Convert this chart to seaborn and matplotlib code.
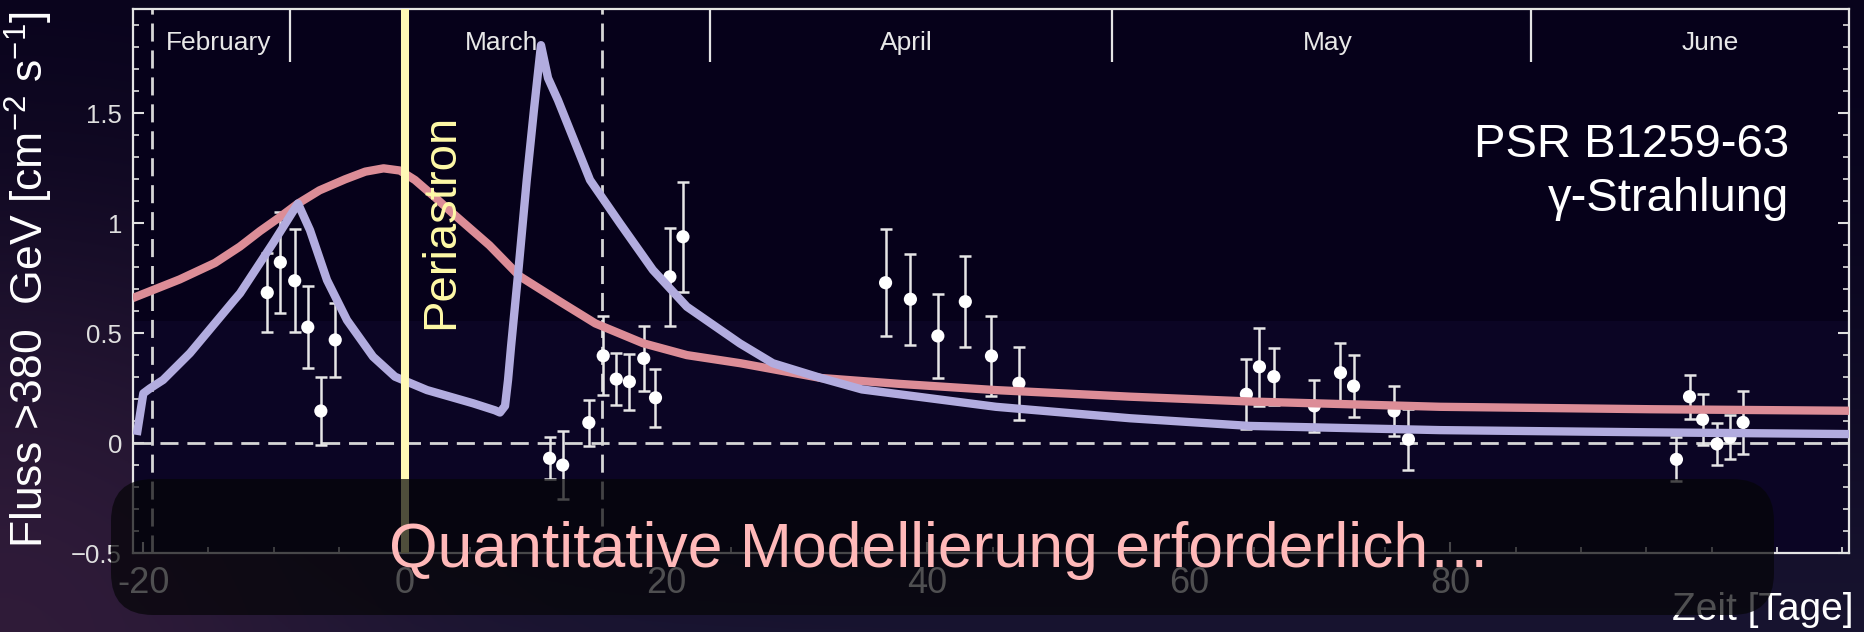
import numpy as np
import matplotlib
matplotlib.use("Agg")
import matplotlib.pyplot as plt
import seaborn as sns
from matplotlib.patches import FancyBboxPatch
from matplotlib.ticker import MultipleLocator

# ---------------- data ----------------
obs_day = [-10.5, -9.5, -8.4, -7.4, -6.4, -5.3,
           11.1, 12.1, 14.1, 15.2, 16.2, 17.2, 18.3, 19.2, 20.3, 21.3,
           36.8, 38.7, 40.8, 42.9, 44.9, 47.0,
           64.4, 65.4, 66.5, 69.6, 71.6, 72.6, 75.7, 76.8,
           97.3, 98.3, 99.3, 100.4, 101.4, 102.4]
obs_flux = [0.685, 0.823, 0.739, 0.528, 0.147, 0.470,
            -0.068, -0.099, 0.094, 0.398, 0.292, 0.280, 0.386, 0.207, 0.757, 0.939,
            0.730, 0.655, 0.488, 0.644, 0.397, 0.273,
            0.223, 0.348, 0.303, 0.170, 0.321, 0.260, 0.147, 0.018,
            -0.073, 0.212, 0.109, -0.003, 0.027, 0.095]
obs_err = [0.18, 0.23, 0.235, 0.185, 0.153, 0.17,
           0.095, 0.153, 0.104, 0.18, 0.118, 0.127, 0.148, 0.131, 0.223, 0.25,
           0.244, 0.206, 0.193, 0.206, 0.183, 0.167,
           0.159, 0.178, 0.13, 0.12, 0.134, 0.14, 0.115, 0.14,
           0.10, 0.10, 0.115, 0.095, 0.10, 0.143]

model1_day = [-20.8, -17.2, -14.5, -12.6, -11.05, -9.5, -8.15, -6.5, -4.55, -3.0,
              -1.6, -0.35, 0.8, 2.3, 3.7, 6.5, 8.8, 11.9, 14.6, 18.25, 21.6, 25.7,
              31.85, 37.9, 45.2, 55.5, 64.7, 79.2, 95.3, 110.5]
model1_flux = [0.66, 0.745, 0.82, 0.894, 0.965, 1.03, 1.09, 1.15, 1.2, 1.235,
               1.25, 1.24, 1.197, 1.12, 1.045, 0.90, 0.76, 0.644, 0.545, 0.455, 0.401, 0.364,
               0.297, 0.27, 0.242, 0.212, 0.19, 0.166, 0.155, 0.148]

model2_day = [-20.48, -19.98, -19.46, -18.47, -16.41, -13.04, -12.58, -10.06, -8.15,
              -7.23, -5.93, -4.40, -2.41, -0.73, 1.72, 5.24, 6.92, 7.30, 7.69, 7.92,
              8.15, 8.68, 9.35, 9.90, 10.44, 10.98, 11.74, 14.19, 16.48, 19.0, 21.6,
              25.66, 28.18, 31.85, 34.99, 45.24, 55.49, 64.67, 79.2, 95.26, 110.5]
model2_flux = [0.038, 0.227, 0.25, 0.288, 0.41, 0.65, 0.682, 0.91, 1.09,
               0.969, 0.742, 0.56, 0.394, 0.303, 0.242, 0.182, 0.15, 0.14, 0.17, 0.288,
               0.44, 0.765, 1.197, 1.515, 1.81, 1.66, 1.56, 1.197, 1.0, 0.788, 0.621,
               0.454, 0.364, 0.297, 0.245, 0.166, 0.114, 0.079, 0.06, 0.05, 0.042]

periastron_day = 0
disk_days = [-19.3, 15.1]
month_names = ["February", "March", "April", "May", "June"]
month_label_day = [-14.2, 7.46, 38.4, 70.6, 99.85]
month_boundary_day = [-8.76, 23.36, 54.15, 86.16]

x_ticks = [-20, 0, 20, 40, 60, 80]
x_ticklabels = ["-20", "0", "20", "40", "60", "80"]
y_ticks = [-0.5, 0, 0.5, 1, 1.5]
y_ticklabels = ["\u22120.5", "0", "0.5", "1", "1.5"]

# ---------------- style ----------------
sns.set_theme(style="dark")
plt.rcParams['font.family'] = ['Liberation Sans', 'DejaVu Sans']
plt.rcParams['mathtext.fontset'] = 'custom'
plt.rcParams['mathtext.rm'] = 'Liberation Sans'
plt.rcParams['mathtext.it'] = 'Liberation Sans:italic'
plt.rcParams['mathtext.default'] = 'regular'

W, H, DPI = 1865, 632, 100
fig = plt.figure(figsize=(W / DPI, H / DPI), dpi=DPI)

# background gradient of the slide
bg = fig.add_axes([0, 0, 1, 1], zorder=-10)
yy, xx = np.mgrid[0:1:240j, 0:1:700j]
top = np.array([8, 3, 28]) / 255
bot = np.array([24, 20, 48]) / 255
t = (yy ** 1.6)[..., None]
img = top * (1 - t) + bot * t
glow = np.array([50, 28, 58]) / 255
d = np.sqrt((xx * W / H) ** 2 + (yy - 1) ** 2)
w = (np.exp(-(d / 0.6) ** 2) * 0.9)[..., None]
img = img * (1 - w) + glow * w
bg.imshow(img, aspect='auto', extent=[0, 1, 0, 1])
bg.set_axis_off()

ax = fig.add_axes([133 / W, 1 - 553.3 / H, (1849 - 133) / W, (553.3 - 9.3) / H])
ax.set_facecolor('#06011a')
ax.set_xlim(-20.77, 110.5)
ax.set_ylim(-0.5, 1.973)
ax.axhspan(-0.6, 0.555, color='#0b0524', lw=0, zorder=0)

# reference lines
ax.axhline(0, color='#d6d6d6', lw=2, dashes=(6.5, 3.2), zorder=1.5)
for dd in disk_days:
    ax.axvline(dd, color='#d6d6d6', lw=2, dashes=(6.5, 3.2), zorder=1.5)

# data points
ax.errorbar(obs_day, obs_flux, yerr=obs_err, fmt='none', ecolor='#e6e6e6',
            elinewidth=1.8, capsize=4, capthick=1.8, zorder=2)
sns.scatterplot(x=obs_day, y=obs_flux, color='white', s=90, edgecolor='none',
                zorder=2.5, ax=ax, legend=False)

# model curves
sns.lineplot(x=model1_day, y=model1_flux, sort=False, estimator=None, color='#dc8d97',
             lw=6, ax=ax, zorder=3, solid_joinstyle='round', solid_capstyle='butt')
sns.lineplot(x=model2_day, y=model2_flux, sort=False, estimator=None, color='#b2acdf',
             lw=6, ax=ax, zorder=3.2, solid_joinstyle='round', solid_capstyle='butt')

# periastron
ax.axvline(periastron_day, color='#fff9b5', lw=5.8, zorder=5)
ax.text(3.71, 0.52, 'Periastron', rotation=90, rotation_mode='anchor', ha='left',
        va='baseline', color='#fffaa8', fontsize=34, zorder=6)

# months
ax.vlines(month_boundary_day, 1.735, 1.973, color='#e4e4e4', lw=1.6, zorder=4)
for name, md in zip(month_names, month_label_day):
    ax.text(md, 1.788, name, ha='center', va='baseline', fontsize=19, color='#e8e8e8')

# ticks and spines
ax.set_xticks(x_ticks)
ax.set_xticklabels(x_ticklabels)
ax.xaxis.set_minor_locator(MultipleLocator(5))
ax.set_yticks(y_ticks)
ax.set_yticklabels(y_ticklabels)
ax.yaxis.set_minor_locator(MultipleLocator(0.1))
ax.tick_params(which='both', direction='in', colors='#e0e0e0', bottom=True, left=True,
               right=True, top=False)
ax.tick_params(which='major', length=8, width=1.5)
ax.tick_params(which='minor', length=4.5, width=1.2)
ax.tick_params(axis='x', labelsize=26, pad=9, labelcolor='white')
ax.tick_params(axis='y', labelsize=18.5, pad=8, labelcolor='#e0e0e0')
for s in ax.spines.values():
    s.set_visible(True)
    s.set_color('#e4e4e4')
    s.set_linewidth(1.6)
ax.grid(False)

ax.set_ylabel('Fluss >380  GeV [cm$^{-2}$ s$^{-1}$]', fontsize=32, color='white')
ax.yaxis.set_label_coords(-0.0455, 0.5024)
ax.set_xlabel('Zeit [Tage]', fontsize=28, color='white', ha='right', va='baseline')
ax.xaxis.set_label_coords(1.0027, -0.1226)

fig.text(1789.5 / W, 1 - 156.7 / H, 'PSR B1259-63', ha='right', va='baseline',
         fontsize=34, color='white')
fig.text(1789.5 / W, 1 - 210.7 / H, '\u03b3-Strahlung', ha='right', va='baseline',
         fontsize=34, color='white')

# dark rounded banner
banner = FancyBboxPatch((1.11, 0.17), 16.63, 1.36,
                        boxstyle='round,pad=0,rounding_size=0.42',
                        transform=fig.dpi_scale_trans, facecolor='#050507',
                        edgecolor='none', alpha=0.7, zorder=2)
fig.add_artist(banner)
fig.text(0.504, 1 - 566.7 / H, 'Quantitative Modellierung erforderlich\u2026',
         ha='center', va='baseline', fontsize=45, color='#ffb9b9', zorder=5)

fig.savefig('out.png', dpi=DPI, facecolor=fig.get_facecolor())
